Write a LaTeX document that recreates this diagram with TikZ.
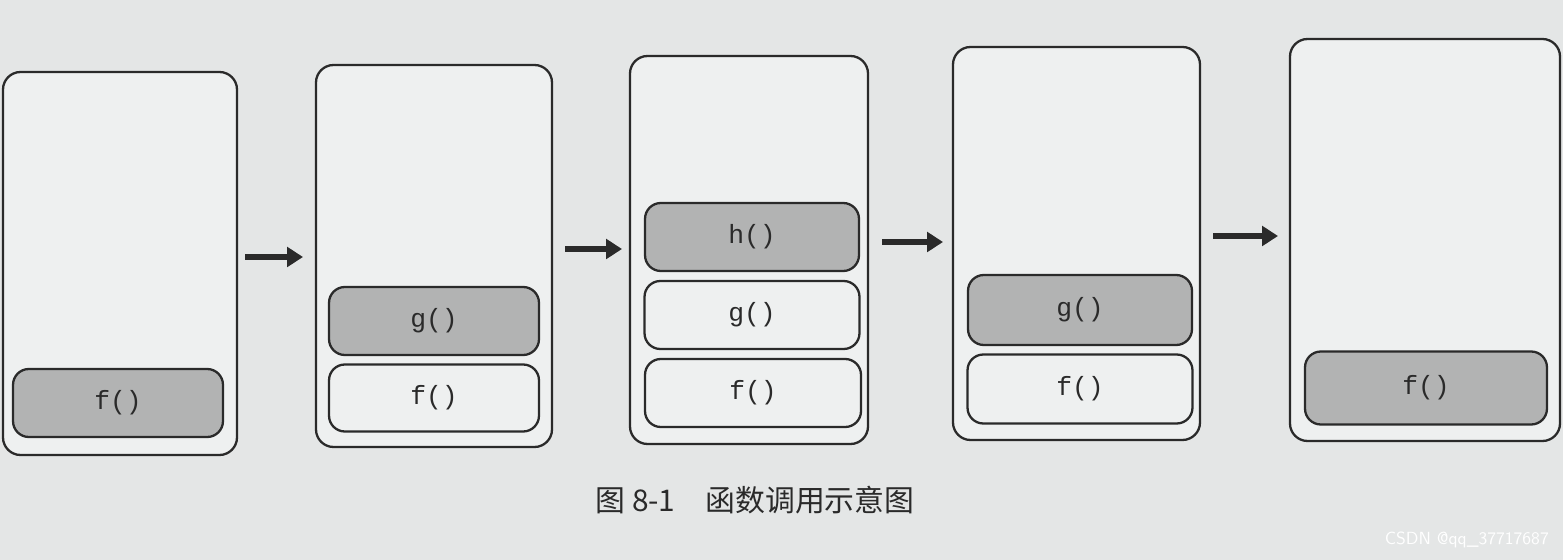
\documentclass[tikz,border=0pt]{standalone}
\usepackage{fontspec}
\setmonofont{Liberation Mono}
\newfontfamily\cjk{Noto Sans CJK SC}
\usetikzlibrary{arrows.meta}
\definecolor{bg}{HTML}{E4E6E6}
\definecolor{panelc}{HTML}{EEF0F0}
\definecolor{dark}{HTML}{B2B3B3}
\definecolor{ink}{HTML}{2A2A2A}
\begin{document}
\begin{tikzpicture}[x=0.02cm,y=-0.02cm,
  panel/.style={draw=ink,line width=1.3pt,rounded corners=10pt,fill=panelc},
  frame/.style={draw=ink,line width=1.3pt,rounded corners=9pt,font=\ttfamily\fontsize{15}{15}\selectfont,text=ink},
  graybox/.style={frame,fill=dark},
  whitebox/.style={frame,fill=panelc},
  arr/.style={-{Triangle[length=9pt,width=11pt]},line width=3pt,draw=ink}]
\fill[bg] (0,0) rectangle (1563,560);
\useasboundingbox (0,0) rectangle (1563,560);
% panels
\draw[panel] (3,72) rectangle (237,455) coordinate (p1);
\draw[panel] (316,65) rectangle (552,447);
\draw[panel] (630,56) rectangle (868,444);
\draw[panel] (953,47) rectangle (1200,440);
\draw[panel] (1290,39) rectangle (1560,441);
% frames
\node[graybox,minimum width=210\pgflinewidth,minimum width=4.2cm,minimum height=1.36cm] (f1) at (118,403) {f()};
\node[graybox,minimum width=4.2cm,minimum height=1.36cm] (g2) at (434,321) {g()};
\node[whitebox,minimum width=4.2cm,minimum height=1.34cm] (f2) at (434,398) {f()};
\node[graybox,minimum width=4.28cm,minimum height=1.36cm] (h3) at (752,237) {h()};
\node[whitebox,minimum width=4.3cm,minimum height=1.36cm] (g3) at (752,315) {g()};
\node[whitebox,minimum width=4.32cm,minimum height=1.36cm] (f3) at (753,393) {f()};
\node[graybox,minimum width=4.48cm,minimum height=1.4cm] (g4) at (1080,310) {g()};
\node[whitebox,minimum width=4.5cm,minimum height=1.38cm] (f4) at (1080,389) {f()};
\node[graybox,minimum width=4.84cm,minimum height=1.46cm] (f5) at (1426,388) {f()};
% arrows
\coordinate (a1s) at (245,257); \coordinate (a1e) at (303,257);
\coordinate (a2s) at (565,249); \coordinate (a2e) at (622,249);
\coordinate (a3s) at (882,242); \coordinate (a3e) at (943,242);
\coordinate (a4s) at (1213,236); \coordinate (a4e) at (1278,236);
\draw[arr] (a1s) -- (a1e);
\draw[arr] (a2s) -- (a2e);
\draw[arr] (a3s) -- (a3e);
\draw[arr] (a4s) -- (a4e);
% caption
\node[text=ink,font=\cjk\fontsize{17}{17}\selectfont] (cap) at (755,500) {图 8-1\quad 函数调用示意图};
\node[text=white,font=\sffamily\fontsize{10}{10}\selectfont,anchor=east] (wm) at (1555,540) {CSDN @qq\_37717687};
\end{tikzpicture}
\end{document}
